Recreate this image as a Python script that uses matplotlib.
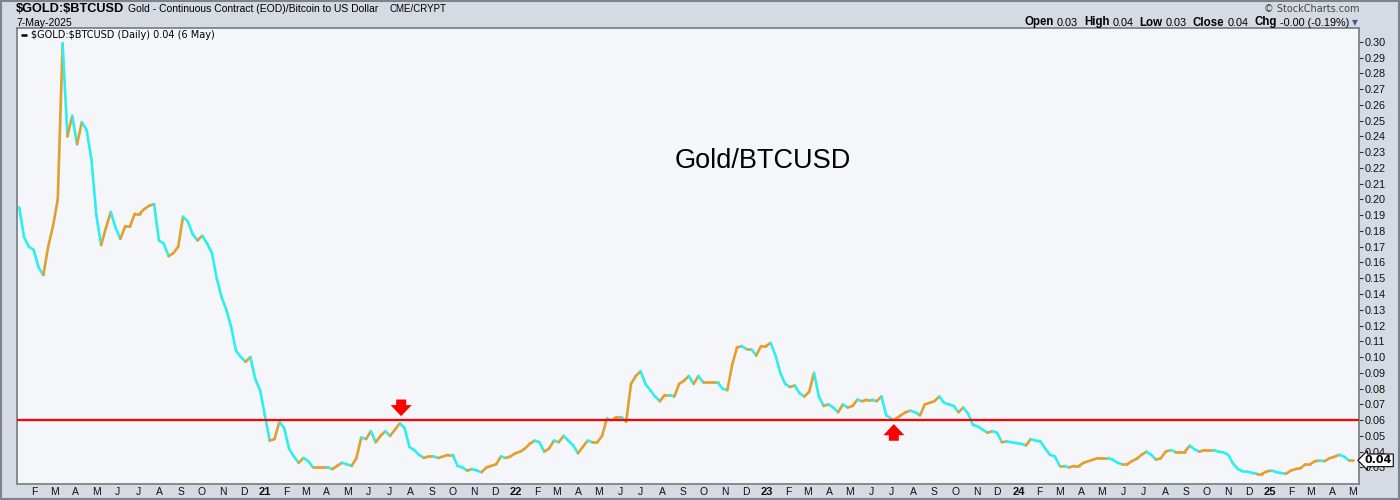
import matplotlib
matplotlib.use("Agg")
import matplotlib.pyplot as plt
import matplotlib.dates as mdates
from matplotlib.collections import LineCollection
import numpy as np
import pandas as pd

# ── data (weekly closes) ──────────────────────────────────────────────────────
start_week = "2020-01-10"
ratio = [
    0.195, 0.176, 0.170, 0.168, 0.157, 0.152, 0.170, 0.183, 0.200, 0.299,
    0.240, 0.253, 0.235, 0.249, 0.244, 0.225, 0.190, 0.171, 0.182, 0.192,
    0.182, 0.175, 0.183, 0.183, 0.191, 0.191, 0.194, 0.196, 0.197, 0.174,
    0.172, 0.164, 0.166, 0.170, 0.189, 0.186, 0.178, 0.174, 0.177, 0.172,
    0.166, 0.150, 0.138, 0.130, 0.119, 0.104, 0.100, 0.097, 0.100, 0.086,
    0.079, 0.063, 0.047, 0.048, 0.059, 0.055, 0.042, 0.037, 0.033, 0.036,
    0.034, 0.030, 0.030, 0.030, 0.030, 0.029, 0.031, 0.033, 0.032, 0.031,
    0.036, 0.049, 0.048, 0.053, 0.046, 0.050, 0.053, 0.050, 0.054, 0.058,
    0.055, 0.043, 0.041, 0.038, 0.036, 0.037, 0.037, 0.036, 0.037, 0.038,
    0.038, 0.031, 0.030, 0.028, 0.029, 0.028, 0.027, 0.030, 0.031, 0.032,
    0.037, 0.036, 0.037, 0.039, 0.040, 0.042, 0.045, 0.047, 0.046, 0.040,
    0.042, 0.047, 0.046, 0.050, 0.047, 0.044, 0.039, 0.043, 0.047, 0.046,
    0.046, 0.050, 0.061, 0.060, 0.062, 0.062, 0.059, 0.083, 0.088, 0.091,
    0.083, 0.079, 0.075, 0.072, 0.076, 0.076, 0.075, 0.083, 0.085, 0.088,
    0.083, 0.088, 0.084, 0.084, 0.084, 0.084, 0.080, 0.079, 0.095, 0.106,
    0.107, 0.105, 0.105, 0.101, 0.107, 0.107, 0.109, 0.101, 0.090, 0.083,
    0.081, 0.082, 0.077, 0.075, 0.078, 0.090, 0.075, 0.069, 0.070, 0.068,
    0.065, 0.070, 0.068, 0.069, 0.073, 0.072, 0.073, 0.073, 0.072, 0.075,
    0.063, 0.061, 0.061, 0.063, 0.065, 0.066, 0.065, 0.063, 0.070, 0.071,
    0.072, 0.075, 0.071, 0.070, 0.069, 0.065, 0.068, 0.064, 0.057, 0.056,
    0.054, 0.052, 0.053, 0.052, 0.046, 0.0465, 0.046, 0.0455, 0.045, 0.044,
    0.048, 0.047, 0.0465, 0.042, 0.038, 0.037, 0.031, 0.031, 0.030, 0.031,
    0.031, 0.033, 0.034, 0.035, 0.036, 0.036, 0.036, 0.035, 0.033, 0.032,
    0.032, 0.034, 0.0355, 0.038, 0.040, 0.038, 0.035, 0.0358, 0.040, 0.041,
    0.040, 0.040, 0.040, 0.0438, 0.0415, 0.040, 0.041, 0.041, 0.041, 0.040,
    0.0395, 0.038, 0.0325, 0.029, 0.0275, 0.0273, 0.0265, 0.026, 0.026, 0.0275,
    0.028, 0.027, 0.0264, 0.026, 0.028, 0.029, 0.0295, 0.032, 0.032, 0.034,
    0.0343, 0.034, 0.0358, 0.0367, 0.038, 0.037, 0.0345, 0.0345,
]
support_level = 0.0601
arrow_down_date, arrow_down_val = "2021-07-18", 0.0625
arrow_up_date, arrow_up_val = "2023-07-04", 0.0575
y_ticks = [round(0.03 + 0.01 * k, 2) for k in range(28)]
ohlc = [("Open", "0.03"), ("High", "0.04"), ("Low", "0.03"),
        ("Close", "0.04"), ("Chg", "-0.00 (-0.19%)")]

dates = pd.date_range(start_week, periods=len(ratio), freq="W-FRI")

# ── style ─────────────────────────────────────────────────────────────────────
C_UP = "#E0A030"
C_DN = "#2EEEEE"
C_BG = "#D5DAE3"
C_PLOT = "#F5F6FA"
C_FRAME = "#7D828C"
SANS = "Liberation Sans"

W, H = 1400, 500
fig = plt.figure(figsize=(14, 5), dpi=100, facecolor=C_BG)
ax = fig.add_axes([16.5 / W, 1 - 484 / H, (1359 - 16.5) / W, (484 - 28.5) / H])
ax.set_facecolor(C_PLOT)

# price line, orange on up moves and cyan on down moves
xn = mdates.date2num(dates)
y = np.array(ratio)
pts = np.column_stack([xn, y]).reshape(-1, 1, 2)
segs = np.concatenate([pts[:-1], pts[1:]], axis=1)
cols = [C_UP if y[i + 1] >= y[i] else C_DN for i in range(len(y) - 1)]
ax.add_collection(LineCollection(segs, colors=cols, linewidths=1.9,
                                 capstyle="round", joinstyle="round", zorder=3))

ax.axhline(support_level, color="#FF0000", lw=1.6, zorder=4)

arrow_style = "simple,head_width=0.95,head_length=0.5,tail_width=0.45"
ax.annotate("", xy=(pd.Timestamp(arrow_down_date), arrow_down_val), xytext=(0, 12),
            textcoords="offset points",
            arrowprops=dict(arrowstyle=arrow_style, color="#FF0000", lw=0,
                            mutation_scale=16, shrinkA=0, shrinkB=0), zorder=5)
ax.annotate("", xy=(pd.Timestamp(arrow_up_date), arrow_up_val), xytext=(0, -12),
            textcoords="offset points",
            arrowprops=dict(arrowstyle=arrow_style, color="#FF0000", lw=0,
                            mutation_scale=16, shrinkA=0, shrinkB=0), zorder=5)

ax.set_xlim(pd.Timestamp("2020-01-06"), pd.Timestamp("2025-05-10"))
ax.set_ylim(0.0195, 0.3084)

# right price axis
ax.yaxis.tick_right()
ax.set_yticks(y_ticks)
ax.set_yticklabels([f"{v:.2f}" for v in y_ticks])
ax.tick_params(axis="y", direction="out", length=3, width=0.8, color="#333333",
               pad=1, labelsize=7.8, labelcolor="#111111")
for t in ax.get_yticklabels():
    t.set_family(SANS)

# month axis
months = pd.date_range("2020-02-01", "2025-05-01", freq="MS")
mlabels = [f"{m.year % 100}" if m.month == 1 else "JFMAMJJASOND"[m.month - 1] for m in months]
ax.set_xticks(mdates.date2num(months))
ax.set_xticklabels(mlabels)
ax.tick_params(axis="x", length=0, pad=2.5, labelsize=7.5, labelcolor="#111111")
for t, m in zip(ax.get_xticklabels(), months):
    t.set_family(SANS)
    if m.month == 1:
        t.set_fontweight("bold")
        t.set_fontsize(8)

for s in ax.spines.values():
    s.set_color(C_FRAME)
    s.set_linewidth(1.3)

# last value tag
ax.annotate("0.04", xy=(1.0, ratio[-1]), xycoords=("axes fraction", "data"),
            xytext=(4, 0), textcoords="offset points", ha="left", va="center",
            fontsize=8, fontweight="bold", family="DejaVu Sans", color="black",
            bbox=dict(boxstyle="larrow,pad=0.12", fc="white", ec="black", lw=0.8),
            annotation_clip=False, zorder=6)

# in-plot legend line
ax.plot([0.003, 0.0075], [0.985, 0.985], transform=ax.transAxes,
        color="black", lw=1.8, solid_capstyle="butt")
ax.text(0.0108, 0.985, "\\$GOLD:\\$BTCUSD (Daily) 0.04 (6 May)", transform=ax.transAxes,
        ha="left", va="center", fontsize=7, family="DejaVu Sans", color="black")

ax.text(0.556, 0.71, "Gold/BTCUSD", transform=ax.transAxes, ha="center", va="center",
        fontsize=19.5, family=SANS, color="black")

# ── header ────────────────────────────────────────────────────────────────────
fig.text(16 / W, 1 - 9.5 / H, "\\$GOLD:\\$BTCUSD", fontsize=9.2, fontweight="bold",
         family=SANS, va="center", ha="left")
fig.text(128 / W, 1 - 9.5 / H, "Gold - Continuous Contract (EOD)/Bitcoin to US Dollar",
         fontsize=7.5, family=SANS, va="center", ha="left")
fig.text(390 / W, 1 - 9.5 / H, "CME/CRYPT", fontsize=7, family=SANS, va="center", ha="left")
fig.text(16 / W, 1 - 23 / H, "7-May-2025", fontsize=7.5, family=SANS, va="center", ha="left")
fig.text(1359 / W, 1 - 8.5 / H, "\u00a9 StockCharts.com", fontsize=7, family="DejaVu Sans",
         color="#444444", va="center", ha="right")

# OHLC strip laid out right to left, ending just before the small triangle
fig.canvas.draw()
rend = fig.canvas.get_renderer()
xpos = 1349.0
for lab, val in reversed(ohlc):
    t = fig.text(xpos / W, 1 - 22.5 / H, val, fontsize=7.8, family=SANS,
                 va="center", ha="right")
    xpos -= t.get_window_extent(rend).width + 3
    t = fig.text(xpos / W, 1 - 22.5 / H, lab, fontsize=8.3, fontweight="bold", family=SANS,
                 va="center", ha="right")
    xpos -= t.get_window_extent(rend).width + 6
fig.text(1355 / W, 1 - 22.5 / H, "\u25bc", fontsize=5.5, family="DejaVu Sans",
         color="#3A5C9A", va="center", ha="center")

# outer frame
fig.patches.append(plt.Rectangle((0.0005, 0.002), 0.999, 0.996, transform=fig.transFigure,
                                 fill=False, ec=C_FRAME, lw=1.5))

fig.savefig("out.png", dpi=100, facecolor=C_BG)
